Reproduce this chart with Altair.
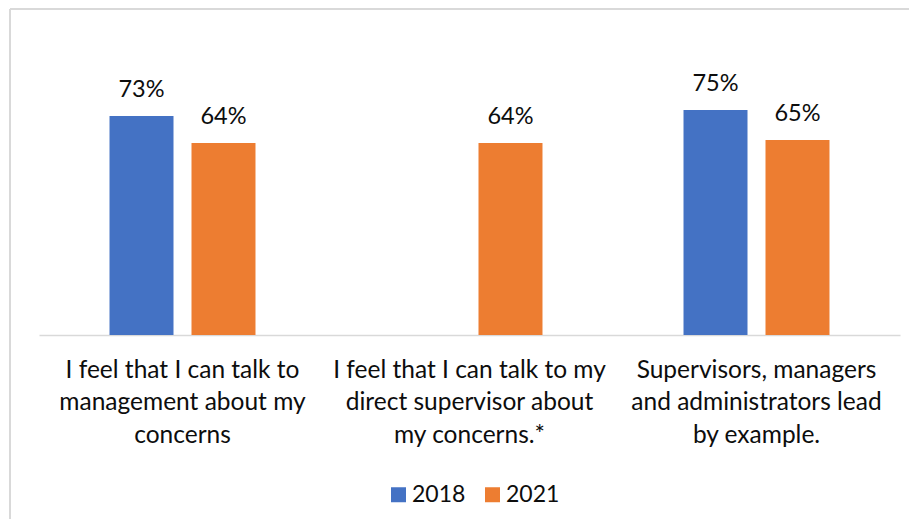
import altair as alt
import pandas as pd

categories = [
    "I feel that I can talk to\nmanagement about my\nconcerns",
    "I feel that I can talk to my\ndirect supervisor about\nmy concerns.*",
    "Supervisors, managers\nand administrators lead\nby example.",
]
years = ["2018", "2021"]
values_2018 = [0.73, None, 0.75]
values_2021 = [0.64, 0.64, 0.65]
colors = ["#4472C4", "#ED7D31"]

rows = []
for c, a, b in zip(categories, values_2018, values_2021):
    if a is not None:
        rows.append({"cat": c, "year": "2018", "value": a})
    if b is not None:
        rows.append({"cat": c, "year": "2021", "value": b})
df = pd.DataFrame(rows)

FONT = "Lato"

base = alt.Chart(df).encode(
    x=alt.X(
        "cat:N",
        sort=categories,
        scale=alt.Scale(paddingInner=0, paddingOuter=0),
        axis=alt.Axis(
            title=None,
            labelAngle=0,
            labelExpr="split(datum.label, '\\n')",
            labelFont=FONT,
            labelFontSize=24.5,
            labelColor="#0d0d0d",
            labelLineHeight=32.5,
            labelPadding=23,
            labelLimit=0,
            labelBaseline="top",
            ticks=False,
            domainColor="#D9D9D9",
            domainWidth=1.5,
        ),
    ),
    xOffset=alt.XOffset(
        "year:N", sort=years, scale=alt.Scale(paddingInner=0.2195, paddingOuter=0.86)
    ),
    y=alt.Y(
        "value:Q",
        scale=alt.Scale(domain=[0, 0.8], nice=False, zero=True),
        axis=None,
    ),
)

bars = base.mark_bar().encode(
    color=alt.Color(
        "year:N",
        sort=years,
        scale=alt.Scale(domain=years, range=colors),
        legend=alt.Legend(
            title=None,
            orient="none",
            legendX=348,
            legendY=388,
            direction="horizontal",
            symbolType="square",
            symbolSize=225,
            symbolStrokeWidth=0,
            labelFont=FONT,
            labelFontSize=23,
            labelColor="#0d0d0d",
            labelOffset=2,
            columnPadding=15,
            padding=0,
        ),
    )
)

labels = base.mark_text(
    baseline="alphabetic", dy=-19, font=FONT, fontSize=23.5, color="#0d0d0d"
).encode(text=alt.Text("value:Q", format=".0%"))

frame_top = alt.Chart(df).mark_rule(color="#D9D9D9", strokeWidth=2).encode(
    x=alt.value(-29), x2=alt.value(880), y=alt.value(-86)
)
frame_left = alt.Chart(df).mark_rule(color="#D9D9D9", strokeWidth=2).encode(
    x=alt.value(-29), y=alt.value(-86), y2=alt.value(430)
)

chart = (
    alt.layer(frame_top, frame_left, bars, labels)
    .properties(
        width=861,
        height=240,
        padding={"left": 31, "top": 87, "right": 9, "bottom": 184},
        autosize=alt.AutoSizeParams(type="none"),
    )
    .configure_view(stroke=None)
)

chart.save("out.html", embed_options={"renderer": "svg", "actions": False})
